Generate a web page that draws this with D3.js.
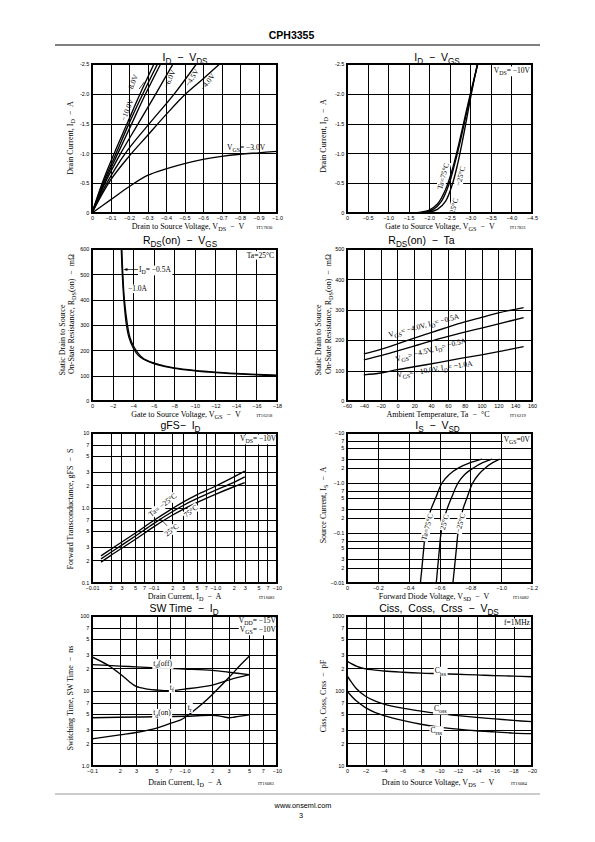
<!DOCTYPE html>
<html><head><meta charset="utf-8">
<script src="https://cdn.jsdelivr.net/npm/d3@7"></script>
<style>body{margin:0;background:#fff}svg{display:block}</style>
</head><body>
<svg id="page" width="595" height="842"></svg>
<script>
// ---------------- DATA ----------------
// Chart 1 : ID - VDS  (VDS [V], ID [A])
const c1XTicks = [0,-0.1,-0.2,-0.3,-0.4,-0.5,-0.6,-0.7,-0.8,-0.9,-1.0];
const c1XLabels = ["0","−0.1","−0.2","−0.3","−0.4","−0.5","−0.6","−0.7","−0.8","−0.9","−1.0"];
const c1YTicks = [0,-0.5,-1.0,-1.5,-2.0,-2.5];
const c1YLabels = ["0","-0.5","-1.0","-1.5","-2.0","-2.5"];
const idVds_m10V = [[0,0],[-0.055,-0.5],[-0.12,-1.0],[-0.19,-1.5],[-0.26,-2.0],[-0.335,-2.5]];
const idVds_m8V  = [[0,0],[-0.06,-0.5],[-0.13,-1.0],[-0.2,-1.5],[-0.275,-2.0],[-0.354,-2.5]];
const idVds_m7V  = [[0,0],[-0.065,-0.5],[-0.14,-1.0],[-0.215,-1.5],[-0.29,-2.0],[-0.371,-2.5]];
const idVds_m6V  = [[0,0],[-0.07,-0.5],[-0.155,-1.0],[-0.25,-1.5],[-0.345,-2.0],[-0.438,-2.5]];
const idVds_m45V = [[0,0],[-0.08,-0.5],[-0.18,-1.0],[-0.31,-1.5],[-0.445,-2.0],[-0.564,-2.5]];
const idVds_m4V  = [[0,0],[-0.1,-0.55],[-0.2,-0.95],[-0.3,-1.3],[-0.4,-1.65],[-0.5,-1.98],[-0.6,-2.25],[-0.69,-2.5]];
const idVds_m3V  = [[0,0],[-0.1,-0.22],[-0.2,-0.44],[-0.3,-0.63],[-0.4,-0.74],[-0.5,-0.83],[-0.6,-0.9],[-0.7,-0.95],[-0.8,-0.985],[-0.9,-1.01],[-1.0,-1.035]];

// Chart 2 : ID - VGS
const c2XTicks = [0,-0.5,-1.0,-1.5,-2.0,-2.5,-3.0,-3.5,-4.0,-4.5];
const c2XLabels = ["0","−0.5","−1.0","−1.5","−2.0","−2.5","−3.0","−3.5","−4.0","−4.5"];
const idVgs_75  = [[-1.55,0],[-1.8,-0.015],[-2.0,-0.05],[-2.2,-0.15],[-2.4,-0.4],[-2.55,-0.7],[-2.7,-1.1],[-2.85,-1.55],[-3.0,-2.0],[-3.18,-2.5]];
const idVgs_25  = [[-1.65,0],[-1.9,-0.015],[-2.1,-0.06],[-2.3,-0.2],[-2.48,-0.48],[-2.63,-0.85],[-2.77,-1.25],[-2.9,-1.65],[-3.02,-2.02],[-3.18,-2.5]];
const idVgs_m25 = [[-1.75,0],[-2.0,-0.015],[-2.2,-0.06],[-2.4,-0.2],[-2.57,-0.5],[-2.7,-0.85],[-2.82,-1.25],[-2.93,-1.65],[-3.03,-2.02],[-3.17,-2.5]];

// Chart 3 : RDS(on) - VGS
const c3XTicks = [0,-2,-4,-6,-8,-10,-12,-14,-16,-18];
const c3XLabels = ["0","−2","−4","−6","−8","−10","−12","−14","−16","−18"];
const c3YTicks = [0,100,200,300,400,500,600];
const c3YLabels = ["0","100","200","300","400","500","600"];
const rdsVgs_05A = [[-2.85,600],[-2.95,500],[-3.1,400],[-3.35,300],[-3.6,250],[-4.0,210],[-4.5,180],[-5,165],[-6,148],[-7,137],[-8,129],[-10,119],[-12,112],[-14,107],[-16,103],[-18,100]];
const rdsVgs_10A = [[-2.9,600],[-3.0,500],[-3.15,400],[-3.45,300],[-3.7,250],[-4.1,212],[-4.6,183],[-5,168],[-6,150],[-7,139],[-8,131],[-10,121],[-12,114],[-14,109],[-16,105],[-18,102]];

// Chart 4 : RDS(on) - Ta
const c4XTicks = [-60,-40,-20,0,20,40,60,80,100,120,140,160];
const c4XLabels = ["−60","−40","−20","0","20","40","60","80","100","120","140","160"];
const c4YTicks = [0,100,200,300,400,500];
const c4YLabels = ["0","100","200","300","400","500"];
const rdsTa_4V  = [[-40,155],[-20,170],[0,188],[20,207],[40,225],[60,243],[80,260],[100,275],[120,290],[150,307]];
const rdsTa_45V = [[-40,135],[-20,149],[0,165],[25,185],[50,205],[75,223],[100,240],[125,257],[150,274]];
const rdsTa_10V = [[-40,86],[-20,92],[0,103],[25,115],[50,127],[75,140],[100,152],[125,165],[150,179]];

// Chart 5 : gFS - ID
const c5XTicks = [-0.01,-0.02,-0.03,-0.05,-0.07,-0.1,-0.2,-0.3,-0.5,-0.7,-1,-2,-3,-5,-7,-10];
const c5XLabels = ["−0.01","2","3","5","7","−0.1","2","3","5","7","−1.0","2","3","5","7","−10"];
const c5YTicks = [0.1,0.2,0.3,0.5,0.7,1,2,3,5,7,10];
const c5YLabels = ["0.1","2","3","5","7","1.0","2","3","5","7","10"];
const gfs_m25 = [[-0.014,0.23],[-0.02,0.28],[-0.05,0.46],[-0.1,0.68],[-0.2,0.98],[-0.3,1.2],[-0.5,1.5],[-1.0,1.95],[-2.0,2.6],[-3.0,3.1]];
const gfs_25  = [[-0.014,0.21],[-0.02,0.255],[-0.05,0.42],[-0.1,0.62],[-0.2,0.89],[-0.3,1.08],[-0.5,1.33],[-1.0,1.72],[-2.0,2.2],[-3.0,2.6]];
const gfs_75  = [[-0.014,0.19],[-0.02,0.232],[-0.05,0.38],[-0.1,0.56],[-0.2,0.8],[-0.3,0.96],[-0.5,1.18],[-1.0,1.52],[-2.0,1.92],[-3.0,2.18]];

// Chart 6 : IS - VSD
const c6XTicks = [0,-0.2,-0.4,-0.6,-0.8,-1.0,-1.2];
const c6XLabels = ["0","−0.2","−0.4","−0.6","−0.8","−1.0","−1.2"];
const c6YTicks = [-0.01,-0.02,-0.03,-0.05,-0.07,-0.1,-0.2,-0.3,-0.5,-0.7,-1,-2,-3,-5,-7,-10];
const c6YLabels = ["−0.01","2","3","5","7","−0.1","2","3","5","7","−1.0","2","3","5","7","−10"];
const isVsd_75  = [[-0.476,-0.01],[-0.486,-0.02],[-0.498,-0.05],[-0.508,-0.1],[-0.53,-0.2],[-0.545,-0.3],[-0.575,-0.5],[-0.616,-1.0],[-0.665,-1.5],[-0.724,-2.0],[-0.8,-2.55],[-0.876,-3.0]];
const isVsd_25  = [[-0.579,-0.01],[-0.588,-0.02],[-0.6,-0.05],[-0.61,-0.1],[-0.632,-0.2],[-0.649,-0.3],[-0.677,-0.5],[-0.72,-1.0],[-0.765,-1.5],[-0.82,-2.0],[-0.88,-2.55],[-0.94,-3.0]];
const isVsd_m25 = [[-0.687,-0.01],[-0.697,-0.02],[-0.71,-0.05],[-0.72,-0.1],[-0.74,-0.2],[-0.752,-0.3],[-0.778,-0.5],[-0.815,-1.0],[-0.855,-1.5],[-0.897,-2.0],[-0.945,-2.55],[-0.99,-3.0]];

// Chart 7 : SW Time - ID
const c7XTicks = [-0.1,-0.2,-0.3,-0.5,-0.7,-1,-2,-3,-5,-7,-10];
const c7XLabels = ["−0.1","2","3","5","7","−1.0","2","3","5","7","−10"];
const c7YTicks = [1,2,3,5,7,10,20,30,50,70,100];
const c7YLabels = ["1.0","2","3","5","7","10","2","3","5","7","100"];
const sw_tdoff = [[-0.1,22.5],[-0.2,21.5],[-0.3,21],[-0.5,20.3],[-1.0,19.6],[-2.0,18.8],[-3.0,17.8],[-5.0,16.5]];
const sw_tf    = [[-0.1,28.5],[-0.15,22],[-0.2,17],[-0.25,13.5],[-0.3,11.5],[-0.4,10.6],[-0.5,10.3],[-0.7,10.1],[-1.0,10.6],[-2.0,12],[-3.0,14],[-5.0,16.5]];
const sw_tr    = [[-0.1,2.3],[-0.2,2.6],[-0.3,2.8],[-0.5,3.2],[-0.7,3.7],[-0.9,4.1],[-1.0,4.4],[-1.5,6.5],[-2.0,9],[-3.0,15],[-4.0,22],[-5.0,29]];
const sw_tdon  = [[-0.1,4.4],[-0.3,4.5],[-1.0,4.6],[-2.0,4.75],[-2.5,4.6],[-3.0,4.4],[-3.5,4.5],[-5.0,4.8]];

// Chart 8 : Ciss, Coss, Crss - VDS
const c8XTicks = [0,-2,-4,-6,-8,-10,-12,-14,-16,-18,-20];
const c8XLabels = ["0","−2","−4","−6","−8","−10","−12","−14","−16","−18","−20"];
const c8YTicks = [10,20,30,50,70,100,200,300,500,700,1000];
const c8YLabels = ["10","2","3","5","7","100","2","3","5","7","1000"];
const cap_ciss = [[0,250],[-1,215],[-2,197],[-4,185],[-6,178],[-8,173],[-10,170],[-12,167],[-14,164],[-16,160],[-18,158],[-20,155]];
const cap_coss = [[0,160],[-0.5,130],[-1,108],[-2,85],[-3,74],[-4,67],[-6,59],[-8,54],[-10,50],[-12,47],[-14,44.5],[-16,42.5],[-18,40.5],[-20,39]];
const cap_crss = [[0,100],[-0.5,85],[-1,74],[-2,60],[-3,52],[-4,47],[-6,40.5],[-8,36],[-10,33],[-12,31],[-14,29.5],[-16,28.5],[-18,27.5],[-20,27]];

// ---------------- DRAWING ----------------
const svg = d3.select("#page");
const SANS = "'Liberation Sans', Arial, Helvetica, sans-serif";
const SERIF = "'Liberation Serif', 'Times New Roman', serif";
const defs = svg.append("defs");
const NOTE_FS = 7.5, AXT_FS = 8, TITLE_FS = 10.5, TICK_FS = 5.5;

function rich(t, s, fs) {
  const parts = s.split(/(_\{[^}]*\})/).filter(p => p !== "");
  let pending = 0;
  parts.forEach(p => {
    if (p.startsWith("_{")) {
      const sh = fs * 0.3;
      t.append("tspan").attr("font-size", fs * 0.78).attr("dy", pending + sh).text(p.slice(2, -1));
      pending = -sh;
    } else {
      t.append("tspan").attr("dy", pending).text(p);
      pending = 0;
    }
  });
}

function label(g, x, y, s, o = {}) {
  const fs = o.fs || NOTE_FS;
  const ty = o.center ? y + fs * 0.33 : y;
  const t = g.append("text")
    .attr("x", x).attr("y", ty)
    .attr("font-family", o.family || SERIF)
    .attr("font-size", fs)
    .attr("fill", "#000")
    .attr("text-anchor", o.anchor || (o.center ? "middle" : "start"))
    .style("white-space", "pre");
  rich(t, s, fs);
  if (o.rotate) t.attr("transform", `rotate(${o.rotate},${x},${y})`);
  if (o.bg) {
    const b = t.node().getBBox();
    const r = g.insert("rect", () => t.node())
      .attr("x", b.x - 1).attr("y", b.y + 0.5).attr("width", b.width + 2).attr("height", b.height - 0.5)
      .attr("fill", "#fff");
    if (o.rotate) r.attr("transform", `rotate(${o.rotate},${x},${y})`);
  }
  return t;
}

let clipN = 0;
function panel(cfg) {
  const [x0, y0, x1, y1] = cfg.box;
  const xs = (cfg.xLog ? d3.scaleLog() : d3.scaleLinear()).domain(cfg.xDomain).range([x0, x1]);
  const ys = (cfg.yLog ? d3.scaleLog() : d3.scaleLinear()).domain(cfg.yDomain).range([y1, y0]);
  const g = svg.append("g");
  const id = "clip" + (clipN++);
  defs.append("clipPath").attr("id", id).append("rect")
    .attr("x", x0).attr("y", y0).attr("width", x1 - x0).attr("height", y1 - y0);

  const gx = g.append("g").attr("transform", `translate(0,${y1})`)
    .call(d3.axisBottom(xs).tickValues(cfg.xTicks).tickFormat((d, i) => cfg.xLabels[i])
      .tickSize(-(y1 - y0)).tickPadding(3.1));
  const gy = g.append("g").attr("transform", `translate(${x0},0)`)
    .call(d3.axisLeft(ys).tickValues(cfg.yTicks).tickFormat((d, i) => cfg.yLabels[i])
      .tickSize(-(x1 - x0)).tickPadding(2.6));
  [gx, gy].forEach(a => {
    a.select(".domain").remove();
    a.selectAll(".tick line").attr("stroke", "#000").attr("stroke-width", 1).attr("shape-rendering", "crispEdges");
    a.selectAll(".tick text").attr("font-family", SANS).attr("font-size", TICK_FS).attr("fill", "#000");
  });

  const line = d3.line().x(d => xs(d[0])).y(d => ys(d[1])).curve(d3.curveCatmullRom.alpha(0.5));
  const cg = g.append("g").attr("clip-path", `url(#${id})`);
  cfg.series.forEach(s => cg.append("path").attr("d", line(s))
    .attr("fill", "none").attr("stroke", "#000").attr("stroke-width", 1.35).attr("stroke-linejoin", "round"));

  const ng = g.append("g");
  if (cfg.notes) cfg.notes(ng, xs, ys);

  g.append("rect").attr("x", x0).attr("y", y0).attr("width", x1 - x0).attr("height", y1 - y0)
    .attr("fill", "none").attr("stroke", "#000").attr("stroke-width", 1.1).attr("shape-rendering", "crispEdges");

  label(svg, cfg.title[1], cfg.title[2], cfg.title[0], {family: SANS, fs: TITLE_FS, anchor: "middle"});
  label(svg, cfg.xTitle[1], cfg.xTitle[2], cfg.xTitle[0], {fs: AXT_FS, anchor: "middle"});
  label(svg, cfg.fig[1], cfg.fig[2], cfg.fig[0], {fs: 4.6, anchor: "start"});
  cfg.yTitles.forEach(t => label(svg, t[1], t[2], t[0], {fs: AXT_FS, anchor: "middle", rotate: -90}));
  return {g, xs, ys};
}

const L = [92, 277], R = [347, 532];
const R1 = [64, 213], R2 = [249, 401], R3 = [433, 583], R4 = [616, 766];

// header / footer
svg.append("text").attr("x", 291.5).attr("y", 38.5).attr("text-anchor", "middle")
  .attr("font-family", SANS).attr("font-weight", "bold").attr("font-size", 10.5).text("CPH3355");
svg.append("line").attr("x1", 55).attr("x2", 540).attr("y1", 45).attr("y2", 45).attr("stroke", "#000").attr("stroke-width", 1.2);
svg.append("line").attr("x1", 55).attr("x2", 540).attr("y1", 794).attr("y2", 794).attr("stroke", "#999").attr("stroke-width", 1.2);
svg.append("text").attr("x", 303).attr("y", 808).attr("text-anchor", "middle")
  .attr("font-family", SANS).attr("font-size", 7.3).text("www.onseml.com");
svg.append("text").attr("x", 301).attr("y", 818).attr("text-anchor", "middle")
  .attr("font-family", SANS).attr("font-size", 7.3).text("3");

// Chart 1
panel({
  box: [L[0], R1[0], L[1], R1[1]],
  xDomain: [0, -1.0], yDomain: [0, -2.5],
  xTicks: c1XTicks, xLabels: c1XLabels, yTicks: c1YTicks, yLabels: c1YLabels,
  series: [idVds_m10V, idVds_m8V, idVds_m7V, idVds_m6V, idVds_m45V, idVds_m4V, idVds_m3V],
  title: ["I_{D}  −  V_{DS}", 185, 60.5],
  xTitle: ["Drain to Source Voltage, V_{DS}  −  V", 188, 229],
  fig: ["IT17830", 256.5, 229],
  yTitles: [["Drain Current, I_{D}  −  A", 72.5, 138]],
  notes: (g, xs, ys) => {
    label(g, xs(-0.19), ys(-1.73), "−10.0V", {center: true, rotate: -68});
    label(g, xs(-0.218), ys(-2.17), "−8.0V", {center: true, rotate: -68});
    g.append("line").attr("x1", xs(-0.255)).attr("y1", ys(-2.08)).attr("x2", xs(-0.283)).attr("y2", ys(-2.2))
      .attr("stroke", "#000").attr("stroke-width", 0.7);
    label(g, xs(-0.42), ys(-2.25), "−6.0V", {center: true, rotate: -66});
    label(g, xs(-0.54), ys(-2.27), "−4.5V", {center: true, rotate: -58});
    label(g, xs(-0.625), ys(-2.2), "−4.0V", {center: true, rotate: -52});
    label(g, xs(-0.73), ys(-1.06), "V_{GS}= −3.0V");
  }
});

// Chart 2
panel({
  box: [R[0], R1[0], R[1], R1[1]],
  xDomain: [0, -4.5], yDomain: [0, -2.5],
  xTicks: c2XTicks, xLabels: c2XLabels, yTicks: c1YTicks, yLabels: c1YLabels,
  series: [idVgs_75, idVgs_25, idVgs_m25],
  title: ["I_{D}  −  V_{GS}", 437, 60.5],
  xTitle: ["Gate to Source Voltage, V_{GS}  −  V", 440, 229],
  fig: ["IT17831", 510, 229],
  yTitles: [["Drain Current, I_{D}  −  A", 325.5, 136]],
  notes: (g, xs, ys) => {
    label(g, xs(-4.45), ys(-2.35), "V_{DS}= −10V", {anchor: "end", bg: true});
    label(g, xs(-2.34), ys(-0.62), "Ta=75°C", {center: true, rotate: -75, bg: true});
    label(g, xs(-2.76), ys(-0.62), "−25°C", {center: true, rotate: -75, bg: true});
    label(g, xs(-2.6), ys(-0.12), "25°C", {center: true, rotate: -75, bg: true});
  }
});

// Chart 3
panel({
  box: [L[0], R2[0], L[1], R2[1]],
  xDomain: [0, -18], yDomain: [0, 600],
  xTicks: c3XTicks, xLabels: c3XLabels, yTicks: c3YTicks, yLabels: c3YLabels,
  series: [rdsVgs_05A, rdsVgs_10A],
  title: ["R_{DS}(on)  −  V_{GS}", 180, 243.5],
  xTitle: ["Gate to Source Voltage, V_{GS}  −  V", 186, 416.5],
  fig: ["IT16218", 256.5, 416.5],
  yTitles: [["Static Drain to Source", 64.5, 340], ["On-State Resistance, R_{DS}(on)  −  mΩ", 73.5, 314]],
  notes: (g, xs, ys) => {
    label(g, xs(-17.7), ys(566), "Ta=25°C", {anchor: "end", bg: true});
    const ax0 = xs(-3.06), ax1 = xs(-4.48), ay = ys(519);
    g.append("line").attr("x1", ax0 + 3).attr("y1", ay).attr("x2", ax1).attr("y2", ay).attr("stroke", "#000").attr("stroke-width", 0.7);
    g.append("path").attr("d", `M${ax0},${ay}l4,-1.4l0,2.8z`).attr("fill", "#000");
    label(g, xs(-4.57), ys(509), "I_{D}= −0.5A", {bg: true});
    label(g, xs(-3.5), ys(434), "−1.0A", {bg: true});
  }
});

// Chart 4
panel({
  box: [R[0], R2[0], R[1], R2[1]],
  xDomain: [-60, 160], yDomain: [0, 500],
  xTicks: c4XTicks, xLabels: c4XLabels, yTicks: c4YTicks, yLabels: c4YLabels,
  series: [rdsTa_4V, rdsTa_45V, rdsTa_10V],
  title: ["R_{DS}(on)  −  Ta", 421.5, 243.5],
  xTitle: ["Ambient Temperature, Ta  −  °C", 438, 416.5],
  fig: ["IT16219", 510, 416.5],
  yTitles: [["Static Drain to Source", 321, 340], ["On-State Resistance, R_{DS}(on)  −  mΩ", 330.5, 314]],
  notes: (g, xs, ys) => {
    label(g, xs(-9.7), ys(210), "V_{GS}= −4.0V, I_{D}= −0.5A", {rotate: -15});
    label(g, xs(-1.4), ys(130), "V_{GS}= −4.5V, I_{D}= −0.5A", {rotate: -15});
    label(g, xs(-0.2), ys(77), "V_{GS}= −10.0V, I_{D}= −1.0A", {rotate: -9});
  }
});

// Chart 5
panel({
  box: [L[0], R3[0], L[1], R3[1]],
  xDomain: [-0.01, -10], yDomain: [0.1, 10], xLog: true, yLog: true,
  xTicks: c5XTicks, xLabels: c5XLabels, yTicks: c5YTicks, yLabels: c5YLabels,
  series: [gfs_m25, gfs_25, gfs_75],
  title: ["gFS−  I_{D}", 180.5, 429],
  xTitle: ["Drain Current, I_{D}  −  A", 184.5, 598.5],
  fig: ["IT16081", 259, 598.5],
  yTitles: [["Forward Transconductance, gFS  −  S", 72.5, 509]],
  notes: (g, xs, ys) => {
    label(g, xs(-9.7), ys(7.8), "V_{DS}= −10V", {anchor: "end", bg: true});
    label(g, xs(-0.14), ys(1.1), "Ta= −25°C", {center: true, rotate: -38, bg: true});
    label(g, xs(-0.4), ys(0.91), "75°C", {center: true, rotate: -38, bg: true});
    g.append("line").attr("x1", xs(-0.126)).attr("y1", ys(0.73)).attr("x2", xs(-0.165)).attr("y2", ys(0.58))
      .attr("stroke", "#000").attr("stroke-width", 0.7);
    label(g, xs(-0.196), ys(0.51), "25°C", {center: true, rotate: -38, bg: true});
  }
});

// Chart 6
panel({
  box: [R[0], R3[0], R[1], R3[1]],
  xDomain: [0, -1.2], yDomain: [-0.01, -10], yLog: true,
  xTicks: c6XTicks, xLabels: c6XLabels, yTicks: c6YTicks, yLabels: c6YLabels,
  series: [isVsd_75, isVsd_25, isVsd_m25],
  title: ["I_{S}  −  V_{SD}", 437.5, 429],
  xTitle: ["Forward Diode Voltage, V_{SD}  −  V", 434, 598.5],
  fig: ["IT16082", 513, 598.5],
  yTitles: [["Source Current, I_{S}  −  A", 325.5, 505]],
  notes: (g, xs, ys) => {
    label(g, xs(-1.187), ys(-6.6), "V_{GS}=0V", {anchor: "end", bg: true});
    label(g, xs(-0.52), ys(-0.132), "Ta=75°C", {center: true, rotate: -75, bg: true});
    label(g, xs(-0.631), ys(-0.166), "25°C", {center: true, rotate: -75, bg: true});
    label(g, xs(-0.735), ys(-0.158), "−25°C", {center: true, rotate: -75, bg: true});
  }
});

// Chart 7
panel({
  box: [L[0], R4[0], L[1], R4[1]],
  xDomain: [-0.1, -10], yDomain: [1, 100], xLog: true, yLog: true,
  xTicks: c7XTicks, xLabels: c7XLabels, yTicks: c7YTicks, yLabels: c7YLabels,
  series: [sw_tdoff, sw_tf, sw_tr, sw_tdon],
  title: ["SW Time  −  I_{D}", 184, 611.5],
  xTitle: ["Drain Current, I_{D}  −  A", 185, 785],
  fig: ["IT16083", 258, 785],
  yTitles: [["Switching Time, SW Time  −  ns", 72.5, 698]],
  notes: (g, xs, ys) => {
    label(g, xs(-9.75), ys(81), "V_{DD}= −15V", {anchor: "end", bg: true});
    label(g, xs(-9.75), ys(61), "V_{GS}= −10V", {anchor: "end", bg: true});
    label(g, xs(-0.58), ys(23.5), "t_{d}(off)", {center: true, bg: true});
    label(g, xs(-0.73), ys(11.2), "t_{f}", {center: true, bg: true});
    label(g, xs(-1.14), ys(6.1), "t_{r}", {center: true, bg: true});
    label(g, xs(-0.57), ys(5.1), "t_{d}(on)", {center: true, bg: true});
  }
});

// Chart 8
panel({
  box: [R[0], R4[0], R[1], R4[1]],
  xDomain: [0, -20], yDomain: [10, 1000], yLog: true,
  xTicks: c8XTicks, xLabels: c8XLabels, yTicks: c8YTicks, yLabels: c8YLabels,
  series: [cap_ciss, cap_coss, cap_crss],
  title: ["Ciss,  Coss,  Crss  −  V_{DS}", 439, 611.5],
  xTitle: ["Drain to Source Voltage, V_{DS}  −  V", 438, 785],
  fig: ["IT16084", 511, 785],
  yTitles: [["Ciss, Coss, Crss  −  pF", 325.5, 696]],
  notes: (g, xs, ys) => {
    label(g, xs(-19.78), ys(760), "f=1MHz", {anchor: "end", bg: true});
    label(g, xs(-10.09), ys(186), "C_{iss}", {center: true, bg: true});
    label(g, xs(-10.09), ys(58), "C_{oss}", {center: true, bg: true});
    label(g, xs(-9.65), ys(30), "C_{rss}", {center: true, bg: true});
  }
});
</script>
</body></html>
